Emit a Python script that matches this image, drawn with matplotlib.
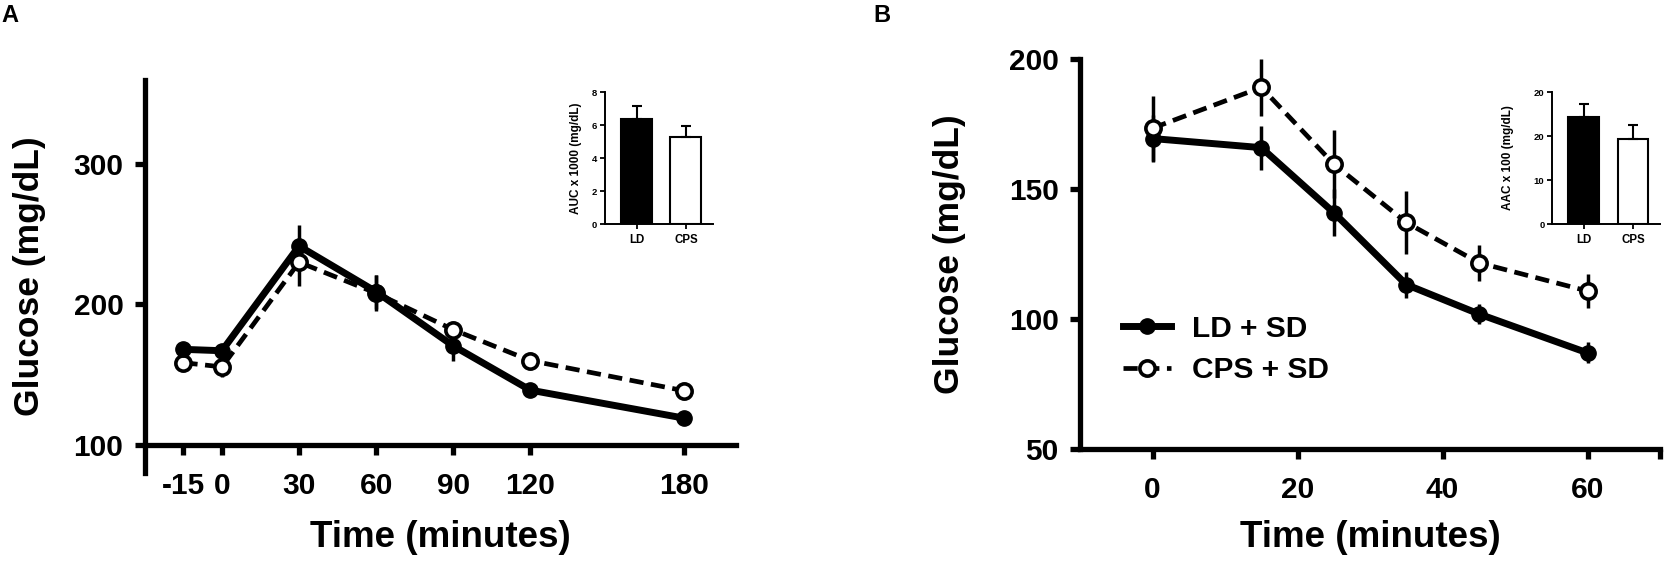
import matplotlib
matplotlib.use("Agg")
import matplotlib.pyplot as plt
import numpy as np

plt.rcParams['font.family'] = ['Liberation Sans', 'DejaVu Sans']
plt.rcParams['font.weight'] = 'bold'
plt.rcParams['axes.labelweight'] = 'bold'
plt.rcParams['axes.unicode_minus'] = False

# ---- Panel A: glucose tolerance ----
time_a = [-15, 0, 30, 60, 90, 120, 180]
ld_a = [168, 167, 241.5, 209, 170.5, 139, 119]
ld_a_err = [3, 3, 15, 12, 11, 3, 3]
cps_a = [158.5, 155.5, 230, 208, 182, 160, 138.5]
cps_a_err = [6, 7, 17, 13, 5, 3, 3]
xticks_a = [-15, 0, 30, 60, 90, 120, 180]
yticks_a = [100, 200, 300]

auc_groups = ['LD', 'CPS']
auc_vals = [6.36, 5.29]
auc_err = [0.81, 0.65]
auc_ticks = [0, 2, 4, 6, 8]

# ---- Panel B: insulin tolerance ----
time_b = [0, 15, 25, 35, 45, 60]
ld_b = [169.5, 166, 141, 113.3, 102, 87]
ld_b_err = [9, 8.5, 9, 5, 4, 4]
cps_b = [173.5, 189.2, 159.7, 137.2, 121.7, 110.8]
cps_b_err = [12.5, 11, 13, 12, 7, 6.5]
xticks_b = [0, 20, 40, 60, 70]
xticklabels_b = ['0', '20', '40', '60', '']
yticks_b = [50, 100, 150, 200]

aac_groups = ['LD', 'CPS']
aac_vals = [24.3, 19.3]
aac_err = [3.0, 3.3]
aac_ticks = [0, 10, 20, 30]
aac_ticklabels = ['0', '10', '20', '20']

fig = plt.figure(figsize=(16.66, 5.66), dpi=100)

LW_SOLID = 5
LW_DASH = 3.4
MS = 11
DASH = (0, (3.0, 1.6))


def style_main(ax):
    for s in ['top', 'right']:
        ax.spines[s].set_visible(False)
    for s in ['left', 'bottom']:
        ax.spines[s].set_linewidth(3.8)
    ax.tick_params(axis='both', direction='out', length=7.5, width=3.8,
                   labelsize=21.5)
    ax.tick_params(axis='x', pad=12)
    ax.tick_params(axis='y', pad=8)


def draw_series(ax, t, ld, ld_err, cps, cps_err, cps_on_top):
    ax.errorbar(t, ld, yerr=ld_err, fmt='none', ecolor='black',
                elinewidth=2.5, capsize=0, zorder=1)
    ax.errorbar(t, cps, yerr=cps_err, fmt='none', ecolor='black',
                elinewidth=2.5, capsize=0, zorder=1)
    z_ld, z_cps = (3, 4) if cps_on_top else (4, 3)
    ax.plot(t, cps, color='black', lw=LW_DASH, linestyle=DASH, zorder=2)
    ax.plot(t, ld, color='black', lw=LW_SOLID, zorder=2)
    ax.plot(t, ld, linestyle='none', marker='o', ms=MS, mfc='black',
            mec='black', zorder=z_ld)
    ax.plot(t, cps, linestyle='none', marker='o', ms=MS, mfc='white',
            mec='black', mew=2.6, zorder=z_cps)


def draw_inset(ax, groups, vals, err, ticks, ticklabels):
    x = np.arange(len(groups))
    ax.bar(x, vals, width=0.63, color=['black', 'white'], edgecolor='black',
           linewidth=1.5, yerr=[np.zeros(len(vals)), err],
           error_kw=dict(elinewidth=1.5, capsize=3.6, capthick=1.5, ecolor='black'),
           zorder=2)
    ax.set_xlim(-0.65, 1.55)
    ax.set_ylim(ticks[0], ticks[-1])
    ax.set_yticks(ticks)
    ax.set_yticklabels(ticklabels)
    ax.set_xticks(x)
    ax.set_xticklabels(groups)
    for s in ['top', 'right']:
        ax.spines[s].set_visible(False)
    for s in ['left', 'bottom']:
        ax.spines[s].set_linewidth(1.4)
    ax.tick_params(axis='both', direction='out', length=3.5, width=1.3, pad=2)
    ax.tick_params(axis='y', labelsize=6.8)
    ax.tick_params(axis='x', labelsize=8.3, pad=4)


# Panel A
ax_a = fig.add_axes([0.0870, 0.1643, 0.3546, 0.6952])
draw_series(ax_a, time_a, ld_a, ld_a_err, cps_a, cps_a_err, cps_on_top=False)
ax_a.set_xlim(-30, 200)
ax_a.set_ylim(80, 360)
ax_a.spines['bottom'].set_position(('data', 100))
ax_a.set_xticks(xticks_a)
ax_a.set_yticks(yticks_a)
style_main(ax_a)
ax_a.set_xlabel('Time (minutes)', fontsize=26.5, va='center')
ax_a.xaxis.set_label_coords(0.5, -0.165)
ax_a.set_ylabel('Glucose (mg/dL)', fontsize=25.5, va='center')
ax_a.yaxis.set_label_coords(-0.1947, 0.5)

ins_a = fig.add_axes([0.3631, 0.6042, 0.0648, 0.2332])
draw_inset(ins_a, auc_groups, auc_vals, auc_err, auc_ticks, [str(v) for v in auc_ticks])
ins_a.set_ylabel('AUC x 1000 (mg/dL)', fontsize=8.5, va='center')
ins_a.yaxis.set_label_coords(-0.27, 0.5)

# Panel B
ax_b = fig.add_axes([0.6483, 0.2067, 0.3481, 0.6885])
draw_series(ax_b, time_b, ld_b, ld_b_err, cps_b, cps_b_err, cps_on_top=True)
ax_b.set_xlim(-10, 70)
ax_b.set_ylim(50, 200)
ax_b.set_xticks(xticks_b)
ax_b.set_xticklabels(xticklabels_b)
ax_b.set_yticks(yticks_b)
style_main(ax_b)
ax_b.set_xlabel('Time (minutes)', fontsize=26.5, va='center')
ax_b.xaxis.set_label_coords(0.5, -0.228)
ax_b.set_ylabel('Glucose (mg/dL)', fontsize=25.5, va='center')
ax_b.yaxis.set_label_coords(-0.2259, 0.5)

h_ld, = ax_b.plot([], [], color='black', lw=LW_SOLID, marker='o', ms=MS, mfc='black')
h_cps, = ax_b.plot([], [], color='black', lw=LW_DASH, linestyle=DASH, marker='o',
                   ms=MS, mfc='white', mew=2.6)
ax_b.legend([h_ld, h_cps], ['LD + SD', 'CPS + SD'], loc='center left',
            bbox_to_anchor=(0.074, 0.256), frameon=False, fontsize=21.5,
            handlelength=1.6, handletextpad=0.7, labelspacing=0.45,
            borderpad=0, borderaxespad=0)

ins_b = fig.add_axes([0.9316, 0.6042, 0.0648, 0.2332])
draw_inset(ins_b, aac_groups, aac_vals, aac_err, aac_ticks, aac_ticklabels)
ins_b.set_ylabel('AAC x 100 (mg/dL)', fontsize=8.5, va='center')
ins_b.yaxis.set_label_coords(-0.41, 0.5)

# panel letters
fig.text(0.001, 0.972, 'A', fontsize=17, ha='left', va='center')
fig.text(0.524, 0.973, 'B', fontsize=17, ha='left', va='center')

fig.savefig('out.png', dpi=100)
